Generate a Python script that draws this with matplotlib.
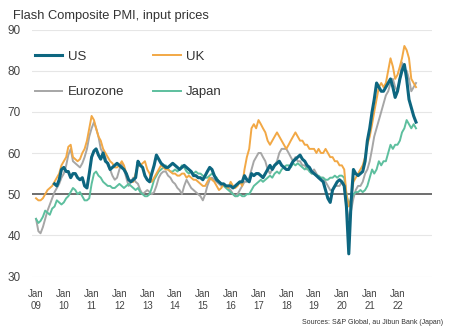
import matplotlib
matplotlib.use('Agg')
import matplotlib.pyplot as plt
import numpy as np
import pandas as pd

plt.rcParams['font.family'] = ['Liberation Sans', 'DejaVu Sans']

# monthly series, Jan 2009 - Sep 2022
dates = pd.date_range('2009-01-01', '2022-09-01', freq='MS')
nan = np.nan

us = [nan, nan, nan, nan, nan, nan, nan, nan, 52.5, 52, 53.5, 56,
      56.5, 55.5, 55.5, 54, 55, 55, 54, 53.5, 54, 52, 51.5, 55,
      59, 60.5, 61, 59.5, 58.5, 60, 58, 57.5, 56, 56.5, 57, 57.5,
      57, 56.5, 56, 55, 53.5, 53, 53.5, 54, 58, 57, 56.5, 54.5,
      53.5, 53, 55, 57, 59.5, 58.5, 57.5, 57, 56.5, 56.5, 57, 57.5,
      57, 56.5, 56, 56.5, 57, 56.5, 56, 55.5, 54.5, 54.5, 54, 54,
      53.5, 54.5, 55.5, 56.5, 56, 54.5, 53.5, 53, 52.5, 52.5, 52, 52,
      52, 51.5, 52, 52.5, 53, 53, 54.5, 53.5, 53, 55, 54.5, 55,
      55, 54.5, 54, 55, 56, 57, 56, 57, 57.5, 58, 57, 56.5,
      56, 56, 57, 58, 58.5, 59, 59.5, 58.5, 58, 57, 56.5, 55.5,
      55, 54.5, 54, 53.5, 53, 51, 49, 48, 51, 52, 53, 53.5,
      53, 52, 47, 35.5, 48, 56, 55, 54.5, 55, 55.5, 58, 63,
      66, 70, 73, 77, 76, 75, 75, 76, 77, 78, 76, 73.5,
      75, 78, 80, 81.5, 78, 73, 71, 69, 67.5]

uk = [49, 48.5, 48.5, 49, 50, 51, 51.5, 52, 53, 54, 55, 57,
      58, 59, 61.5, 62, 59, 58.5, 58, 58.5, 60, 61, 63, 66,
      69, 68, 66, 64, 63, 61, 60, 59, 58, 57.5, 56.5, 56.5,
      57, 58, 57, 55, 53.5, 53, 53, 55, 57, 57, 57.5, 58,
      56, 55, 53, 54, 55, 56, 57, 56.5, 56, 56, 55.5, 55,
      55, 54.5, 54.5, 55, 55, 54, 54.5, 54, 53.5, 53.5, 53, 52.5,
      52, 52, 53, 54, 53.5, 53, 52, 51, 51.5, 52.5, 52, 51.5,
      53, 52, 51.5, 52, 53, 52, 56, 59, 61, 66, 67, 66,
      68, 67, 66, 65, 63, 62, 63, 64, 65, 64, 63, 62,
      61, 62, 63, 64, 65, 64, 63, 63, 62, 62, 61, 61,
      61, 60, 61, 60, 60, 61, 60, 59, 59, 58, 58, 57,
      57, 56, 50, 47, 49, 53, 54, 55, 56, 57, 59, 62,
      64, 67, 70, 73, 76, 77, 76, 77, 80, 83, 81, 78,
      79, 81, 83, 86, 85, 83, 78, 77, 76]

ez = [44, 41, 40.5, 42, 44, 46, 47.5, 49, 50.5, 51.5, 52.5, 54,
      55, 57, 59.5, 61, 58, 57.5, 57, 56.5, 57.5, 59, 61, 64,
      66, 67.5, 66, 64, 61, 60, 59, 57, 56, 54.5, 53.5, 54,
      56, 57.5, 56, 54, 52, 53, 54, 53, 52.5, 51, 50, 50.5,
      51, 50.5, 50, 50.5, 52, 54, 55, 55.5, 55.5, 54.5, 54, 53,
      52.5, 51.5, 51, 50, 52, 53.5, 52.5, 51.5, 51, 50.5, 50, 49.5,
      48.5, 50, 52, 53.5, 54, 53.5, 53, 52.5, 52, 52.5, 52, 51.5,
      51, 50, 49.5, 50, 51, 52, 53, 53, 54, 56, 58, 59,
      60, 60, 59, 58, 56, 55, 56, 57, 58, 60, 61, 61,
      61, 60, 59, 58, 59, 58, 58, 57, 57, 56, 56, 55,
      56, 55, 54, 54, 54, 53, 52, 51, 51, 52, 52, 52,
      53, 52, 47, 44, 46, 49, 51, 52, 52, 53, 55, 56,
      58, 61, 64, 66, 68, 70, 72, 74, 75, 77, 78, 76,
      75, 78, 82, 80, 80, 78, 75, 76, 77]

jp = [44, 43, 43.5, 44.5, 46, 45.5, 45, 46.5, 47, 48.5, 48, 47.5,
      48, 49, 49.5, 50.5, 51.5, 51, 50, 50.5, 49.5, 48.5, 48.5, 49,
      52.5, 55, 55.5, 54.5, 54, 53, 52.5, 52, 52, 51.5, 51.5, 52,
      52.5, 52, 51.5, 52, 52.5, 52, 51.5, 51, 51.5, 50.5, 50, 49.5,
      49.5, 50, 51.5, 53.5, 54.5, 55.5, 56, 56.5, 57, 56, 55.5, 55.5,
      56, 55.5, 56, 57, 56.5, 55.5, 55, 55.5, 55, 55.5, 55, 55,
      54.5, 54, 54, 54.5, 55, 54.5, 54, 53, 52.5, 52, 51.5, 51,
      50.5, 50, 49.5, 49.5, 50, 49.5, 49.5, 50, 50, 51, 52, 52.5,
      53, 53.5, 53, 53.5, 54, 54.5, 54, 55, 55.5, 55, 56, 56.5,
      57, 57, 56.5, 57.5, 57, 57.5, 57, 56.5, 56, 56.5, 55.5, 55,
      55, 54.5, 54.5, 54, 54, 53.5, 53.5, 54, 54, 54.5, 54, 54.5,
      54.5, 54, 50, 47.5, 48.5, 50, 50.5, 50.5, 51, 50.5, 51, 52,
      54, 56, 55, 56, 58, 57, 58, 58, 60, 62, 61, 62,
      62, 63, 65, 66, 68, 67, 66, 67, 66]

years = list(range(2009, 2023))
xlabels = ['Jan\n%02d' % (y % 100) for y in years]

fig = plt.figure(figsize=(4.51, 3.32), dpi=100)
ax = fig.add_axes([32/451, 1-276.5/332, 400/451, 247/332])

for y in [30, 40, 60, 70, 80, 90]:
    ax.axhline(y, color='#e6e6e6', lw=0.8, zorder=0)
ax.axhline(50, color='#6e6e6e', lw=1.4, zorder=1)

ax.plot(dates, ez, color='#a6a6a6', lw=1.4, label='Eurozone', zorder=2)
ax.plot(dates, jp, color='#5dbf9e', lw=1.4, label='Japan', zorder=3)
ax.plot(dates, uk, color='#f2a845', lw=1.4, label='UK', zorder=4)
ax.plot(dates, us, color='#0d6680', lw=2.2, label='US', zorder=5)

t0 = pd.Timestamp('2009-01-01')
ax.set_xlim(t0 - pd.Timedelta(days=53), t0 + pd.Timedelta(days=int(14.24*365.25)))
ax.set_ylim(30, 90)
ax.set_yticks([30, 40, 50, 60, 70, 80, 90])
ax.set_xticks([pd.Timestamp('%d-01-01' % y) for y in years])
ax.set_xticklabels(xlabels, multialignment='center', linespacing=1.3)
ax.tick_params(axis='x', length=0, pad=9, labelsize=7, colors='#444444')
ax.tick_params(axis='y', length=0, pad=8, labelsize=8.5, colors='#444444')
for s in ax.spines.values():
    s.set_visible(False)

# legend filled column-wise: US / Eurozone, then UK / Japan
h, l = ax.get_legend_handles_labels()
order = [3, 0, 2, 1]
fig.legend([h[i] for i in order], [l[i] for i in order], ncol=2, frameon=False,
           loc='upper left', bbox_to_anchor=(28/451, 1-44/332), fontsize=9.5,
           handlelength=2.1, handletextpad=0.4, columnspacing=2.2,
           labelspacing=1.75, borderpad=0, labelcolor='#333333')

fig.text(13/451, 1-19/332, 'Flash Composite PMI, input prices', fontsize=9.3,
         color='#333333', ha='left', va='baseline')
fig.text(443/451, 1-322/332, 'Sources: S&P Global, au Jibun Bank (Japan)',
         fontsize=5, color='#333333', ha='right', va='center')

fig.savefig('out.png', dpi=100)
